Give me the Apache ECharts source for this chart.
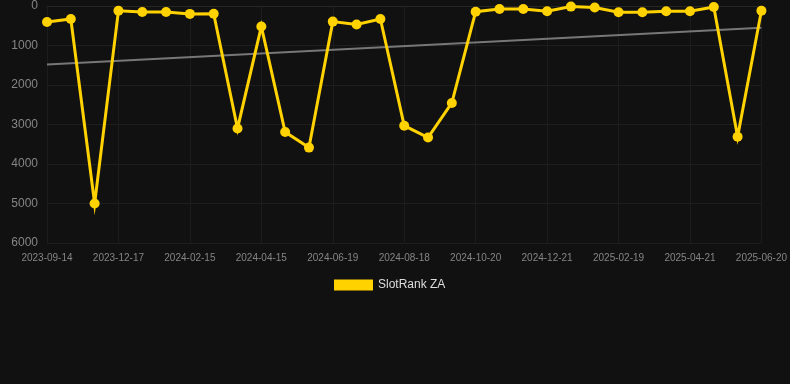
<!DOCTYPE html>
<html>
<head>
<meta charset="utf-8">
<script src="https://cdn.jsdelivr.net/npm/echarts@6/dist/echarts.min.js"></script>
<style>
  html, body { margin: 0; padding: 0; background: #111111; }
  #chart { width: 790px; height: 384px; }
</style>
</head>
<body>
<div id="chart"></div>
<script>
const dates = [
  "2023-09-14", "2023-10-15", "2023-11-16", "2023-12-17", "2024-01-06", "2024-01-26",
  "2024-02-15", "2024-03-06", "2024-03-26", "2024-04-15", "2024-05-07", "2024-05-28",
  "2024-06-19", "2024-07-09", "2024-07-29", "2024-08-18", "2024-09-08", "2024-09-29",
  "2024-10-20", "2024-11-10", "2024-12-01", "2024-12-21", "2025-01-10", "2025-01-30",
  "2025-02-19", "2025-03-11", "2025-03-31", "2025-04-21", "2025-05-11", "2025-05-31",
  "2025-06-20"
];
const rankValues = [
  405, 330, 5000, 120, 150, 150,
  200, 195, 3100, 520, 3190, 3585,
  395, 470, 330, 3030, 3330, 2455,
  145, 75, 75, 135, 15, 40,
  160, 160, 135, 135, 25, 3310,
  120
];
// trend line end points (first and last date)
const trendStart = 1480;
const trendEnd = 550;
const trendValues = dates.map((d, i) =>
  i === 0 ? trendStart : (i === dates.length - 1 ? trendEnd : null));

const chart = echarts.init(document.getElementById("chart"));
chart.setOption({
  animation: false,
  backgroundColor: "#111111",
  grid: { left: 47, right: 28, top: 6, bottom: 141 },
  legend: {
    bottom: 88,
    left: 329,
    itemWidth: 39,
    itemHeight: 11,
    itemGap: 6,
    data: ["SlotRank ZA"],
    textStyle: { color: "#dddddd", fontSize: 12, fontFamily: "Arial, Liberation Sans" },
    icon: "rect"
  },
  xAxis: {
    type: "category",
    data: dates,
    boundaryGap: false,
    axisLine: { show: true, lineStyle: { color: "#262626" } },
    axisTick: { show: false },
    axisLabel: {
      interval: 2,
      color: "#858585",
      fontSize: 10,
      margin: 10,
      fontFamily: "Arial, Liberation Sans"
    },
    splitLine: { show: true, interval: 2, lineStyle: { color: "#1c1c1c", width: 1 } }
  },
  yAxis: {
    type: "value",
    inverse: true,
    min: 0,
    max: 6000,
    interval: 1000,
    axisLine: { show: false },
    axisTick: { show: false },
    axisLabel: {
      color: "#858585",
      fontSize: 12,
      margin: 9,
      formatter: (v) => String(v),
      fontFamily: "Arial, Liberation Sans"
    },
    splitLine: { lineStyle: { color: "#1e1e1e", width: 1 } }
  },
  series: [
    {
      name: "SlotRank ZA",
      type: "line",
      data: rankValues,
      color: "#ffd200",
      symbol: "circle",
      symbolSize: 10,
      lineStyle: { width: 3, color: "#ffd200", join: "miter", miterLimit: 10 },
      itemStyle: { color: "#ffd200" },
      z: 3
    },
    {
      name: "trend",
      type: "line",
      data: trendValues,
      connectNulls: true,
      symbol: "none",
      lineStyle: { width: 2, color: "#777777" },
      z: 2
    }
  ]
});
</script>
</body>
</html>
